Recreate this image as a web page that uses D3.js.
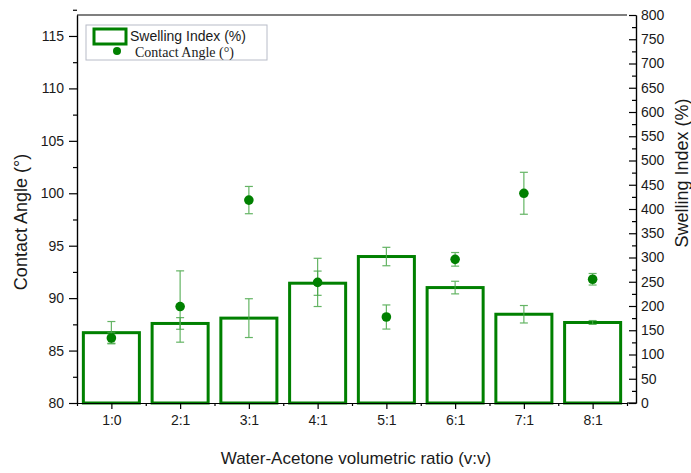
<!DOCTYPE html>
<html>
<head>
<meta charset="utf-8">
<script src="https://cdn.jsdelivr.net/npm/d3@7"></script>
<style>
body{margin:0;background:#fff;}
svg{display:block;font-family:Arial,"Liberation Sans",sans-serif;}
</style>
</head>
<body>
<svg id="chart" width="691" height="473"></svg>
<script>
const categories = ['1:0','2:1','3:1','4:1','5:1','6:1','7:1','8:1'];
const swelling = [145,164,175,247,302,238,183,166];
const swellingErr = [23,12,40,25,19,13,18,4];
const contactAngle = [86.2,89.2,99.35,91.5,88.2,93.7,100.0,91.8];
const contactErr = [0.5,3.4,1.3,2.3,1.15,0.65,2.0,0.55];
const leftTicks = [80,85,90,95,100,105,110,115];
const rightTicks = d3.range(0,801,50);

const green = '#008000';
const errColor = '#4aa84a';

const svg = d3.select('#chart');
const plotL = 77, plotR = 627, rightAxisX = 636, plotT = 15, plotB = 403;

const x = d3.scaleLinear().domain([0.5,8.5]).range([plotL,plotR]);
const yL = d3.scaleLinear().domain([80,117]).range([plotB,plotT]);
const yR = d3.scaleLinear().domain([0,800]).range([plotB,plotT]);
const step = x(2)-x(1);
const barW = step*0.815;

// frame top + bottom-right joint
svg.append('line').attr('x1',plotL).attr('x2',plotR).attr('y1',plotT).attr('y2',plotT)
  .attr('stroke','#000').attr('stroke-width',1.2);
svg.append('line').attr('x1',plotR).attr('x2',rightAxisX).attr('y1',plotB).attr('y2',plotB)
  .attr('stroke','#000').attr('stroke-width',1.2);

// bars
const bars = svg.append('g');
bars.selectAll('rect')
  .data(swelling)
  .enter()
  .append('rect')
  .attr('x',(d,i)=>x(i+1)-barW/2)
  .attr('y',d=>yR(d))
  .attr('width',barW)
  .attr('height',d=>plotB-yR(d))
  .attr('fill','#fff')
  .attr('stroke',green)
  .attr('stroke-width',3);

function errorBars(g, vals, errs, scale){
  const e = g.selectAll('g').data(vals).enter().append('g')
    .attr('stroke',errColor).attr('stroke-width',1.2).attr('opacity',0.85);
  e.append('line')
    .attr('x1',(d,i)=>x(i+1)).attr('x2',(d,i)=>x(i+1))
    .attr('y1',(d,i)=>scale(d+errs[i])).attr('y2',(d,i)=>scale(d-errs[i]));
  e.append('line')
    .attr('x1',(d,i)=>x(i+1)-4).attr('x2',(d,i)=>x(i+1)+4)
    .attr('y1',(d,i)=>scale(d+errs[i])).attr('y2',(d,i)=>scale(d+errs[i]));
  e.append('line')
    .attr('x1',(d,i)=>x(i+1)-4).attr('x2',(d,i)=>x(i+1)+4)
    .attr('y1',(d,i)=>scale(d-errs[i])).attr('y2',(d,i)=>scale(d-errs[i]));
}
errorBars(svg.append('g'), swelling, swellingErr, yR);
errorBars(svg.append('g'), contactAngle, contactErr, yL);

// points
svg.append('g').selectAll('circle')
  .data(contactAngle)
  .enter()
  .append('circle')
  .attr('cx',(d,i)=>x(i+1))
  .attr('cy',d=>yL(d))
  .attr('r',4.8)
  .attr('fill',green);

// axes
function styleAxis(g){
  g.selectAll('path,line').attr('stroke','#000').attr('stroke-width',1.2);
  g.selectAll('text').attr('fill','#1a1a1a').style('font-size','14px')
    .style('font-family','Arial, "Liberation Sans", sans-serif');
}

svg.append('g').attr('transform',`translate(0,${plotB})`)
  .call(d3.axisBottom(x).tickValues(d3.range(1,9)).tickFormat(d=>categories[d-1])
    .tickSize(6).tickSizeOuter(0).tickPadding(6))
  .call(styleAxis);
svg.append('g').attr('transform',`translate(0,${plotB})`)
  .call(d3.axisBottom(x).tickValues(d3.range(0.5,8.6,1)).tickFormat('').tickSize(3).tickSizeOuter(0))
  .call(styleAxis);

svg.append('g').attr('transform',`translate(${plotL},0)`)
  .call(d3.axisLeft(yL).tickValues(leftTicks).tickSize(8).tickSizeOuter(0).tickPadding(5))
  .call(styleAxis);
svg.append('g').attr('transform',`translate(${plotL},0)`)
  .call(d3.axisLeft(yL).tickValues(leftTicks.map(d=>d+2.5)).tickFormat('').tickSize(4).tickSizeOuter(0))
  .call(styleAxis);

svg.append('g').attr('transform',`translate(${rightAxisX},0)`)
  .call(d3.axisRight(yR).tickValues(rightTicks).tickSize(-7).tickSizeOuter(0).tickPadding(5))
  .call(styleAxis);
svg.append('g').attr('transform',`translate(${rightAxisX},0)`)
  .call(d3.axisRight(yR).tickValues(d3.range(25,800,50)).tickFormat('').tickSize(-4).tickSizeOuter(0))
  .call(styleAxis);

// titles
svg.append('text').attr('transform','translate(27,222) rotate(-90)')
  .attr('text-anchor','middle').style('font-size','18px').attr('fill','#1a1a1a')
  .text('Contact Angle (°)');
svg.append('text').attr('transform','translate(688,173) rotate(-90)')
  .attr('text-anchor','middle').style('font-size','18px').attr('fill','#1a1a1a')
  .text('Swelling Index (%)');
svg.append('text').attr('x',356).attr('y',464)
  .attr('text-anchor','middle').style('font-size','17px').attr('fill','#1a1a1a')
  .text('Water-Acetone volumetric ratio (v:v)');

// legend
const lg = svg.append('g');
lg.append('rect').attr('x',86).attr('y',25).attr('width',181).attr('height',35)
  .attr('fill','#fff').attr('stroke','#b8bcc8').attr('stroke-width',1);
lg.append('rect').attr('x',94).attr('y',29).attr('width',32).attr('height',15)
  .attr('fill','#fff').attr('stroke',green).attr('stroke-width',3);
lg.append('text').attr('x',130).attr('y',41).style('font-size','14px').attr('fill','#1a1a1a')
  .text('Swelling Index (%)');
lg.append('circle').attr('cx',117).attr('cy',51).attr('r',4).attr('fill',green);
lg.append('text').attr('x',135).attr('y',56.5).style('font-size','14px')
  .style('font-family','"Liberation Serif","Times New Roman",serif').attr('fill','#1a1a1a')
  .text('Contact Angle (°)');
</script>
</body>
</html>
